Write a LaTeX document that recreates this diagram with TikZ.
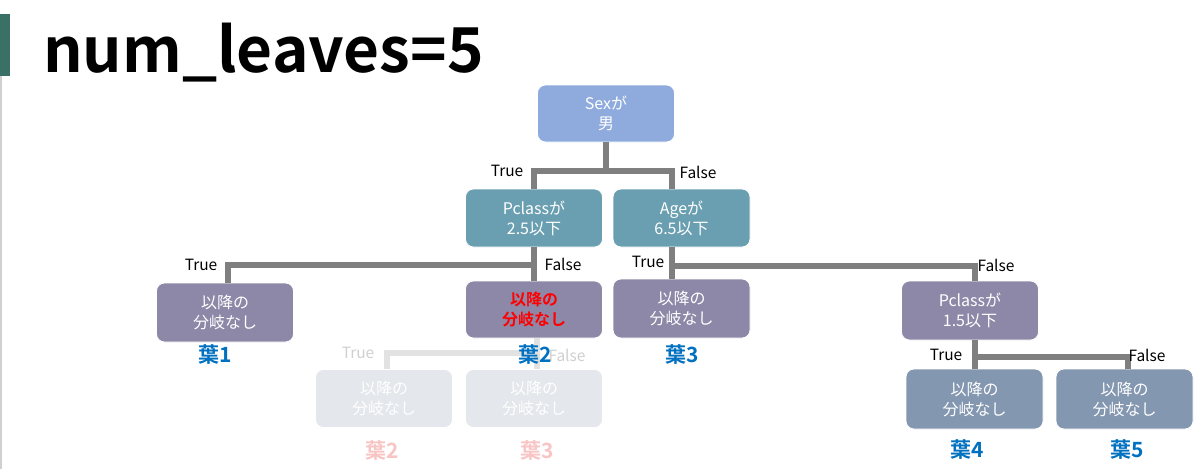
\documentclass[tikz,border=0pt]{standalone}
\usepackage{fontspec}
\setmainfont{Noto Sans CJK JP}[BoldFont={Noto Sans CJK JP Bold}]
\usetikzlibrary{calc}
\definecolor{sexblue}{HTML}{8FAADC}
\definecolor{tealbox}{HTML}{6A9FB1}
\definecolor{purplebox}{HTML}{8E88A8}
\definecolor{slatebox}{HTML}{8497B0}
\definecolor{fadedbox}{HTML}{E4E7EB}
\definecolor{linegray}{HTML}{7F7F7F}
\definecolor{fadedline}{HTML}{E2E2E2}
\definecolor{fadedtext}{HTML}{D0D0D0}
\definecolor{leafblue}{HTML}{0070C0}
\definecolor{leafpink}{HTML}{F8C4C4}
\definecolor{barGreen}{HTML}{3B7067}
\begin{document}
\begin{tikzpicture}[x=1pt,y=-1pt,
  box/.style={rounded corners=8pt,draw=white,line width=0.8pt,minimum width=137pt,minimum height=58pt,
    text=white,align=center,font=\fontsize{16}{20}\selectfont,inner sep=0pt},
  conn/.style={draw=linegray,line width=6pt,line join=miter},
  fconn/.style={draw=fadedline,line width=6pt,line join=miter},
  lbl/.style={font=\fontsize{15.5}{17}\selectfont,text=black,inner sep=0pt},
  flbl/.style={lbl,text=fadedtext},
  leaf/.style={font=\fontsize{21}{23}\selectfont\bfseries,text=leafblue,inner sep=0pt},
  fleaf/.style={leaf,text=leafpink}]
\useasboundingbox[fill=white] (0,0) rectangle (1200,469);
\fill[barGreen] (0,14) rectangle (10,76);
\draw[fadedtext,line width=1.2pt] (1,76) -- (1,469);
\node[anchor=base west,inner sep=0pt,font=\fontsize{62}{64}\selectfont\bfseries] (title) at (43,72) {num\_leaves=5};

% faded subtree (behind)
\node[box,fill=fadedbox] (f2) at (384,398.5) {以降の\\分岐なし};
\node[box,fill=fadedbox] (f3) at (534,398.5) {以降の\\分岐なし};
\coordinate (jf) at (537,353);

% nodes
\node[box,fill=sexblue,minimum height=57pt] (sex) at (606,113.5) {Sexが\\男};
\node[box,fill=tealbox] (pc25) at (534,218) {Pclassが\\2.5以下};
\node[box,fill=tealbox] (age) at (681.5,218) {Ageが\\6.5以下};
\node[box,fill=purplebox,minimum height=59pt] (l1) at (225,312.5) {以降の\\分岐なし};
\node[box,fill=purplebox,minimum height=57pt,text=red,font=\fontsize{16}{20}\selectfont\bfseries] (red) at (534,309.5) {以降の\\分岐なし};
\node[box,fill=purplebox,minimum height=59pt] (l3) at (681.5,308.5) {以降の\\分岐なし};
\node[box,fill=purplebox,minimum height=59pt] (p15) at (970,310.5) {Pclassが\\1.5以下};
\node[box,fill=slatebox,minimum height=60pt] (l4) at (974.5,399) {以降の\\分岐なし};
\node[box,fill=slatebox,minimum height=60pt] (l5) at (1124.5,399) {以降の\\分岐なし};

% faded connectors
\draw[fconn] ([xshift=3pt]red.south) -- (jf) -| ([xshift=3pt]f2.north);
\draw[fconn] (jf) -- ([xshift=3pt]f3.north);
\node[flbl] (ft) at (358,353) {True};
\node[flbl] (ff) at (567,355) {False};

% connectors
\coordinate (j1) at (606,171);
\draw[conn] (sex.south) -- (j1);
\draw[conn] (pc25.north) |- ($(age.north)+(-9.5,-18)$) -- ([xshift=-9.5pt]age.north);
\coordinate (j2) at (534,265);
\draw[conn] (pc25.south) -- (red.north);
\draw[conn] ([xshift=3pt]l1.north) |- (j2);
\coordinate (j3) at (672,266);
\draw[conn] ([xshift=-9.5pt]age.south) -- ([xshift=-9.5pt]l3.north);
\draw[conn] (j3) -| ([xshift=5pt]p15.north);
\coordinate (j4) at (975,357);
\draw[conn] ([xshift=5pt]p15.south) -- ([xshift=0.5pt]l4.north);
\draw[conn] (j4) -| ([xshift=3.5pt]l5.north);

% labels
\node[lbl] (t1) at (507,171) {True};
\node[lbl] (f1) at (698,172) {False};
\node[lbl] (t2) at (201,265) {True};
\node[lbl] (fl2) at (563,264) {False};
\node[lbl] (t3) at (648,262) {True};
\node[lbl] (fl3) at (996,265) {False};
\node[lbl] (t4) at (946,355) {True};
\node[lbl] (fl4) at (1147,355) {False};

% leaf labels
\node[leaf] (y1) at (215,355) {葉1};
\node[leaf] (y2) at (535,355) {葉2};
\node[leaf] (y3) at (682,355) {葉3};
\node[leaf] (y4) at (967,450) {葉4};
\node[leaf] (y5) at (1127,450) {葉5};
\node[fleaf] (fy2) at (382,451) {葉2};
\node[fleaf] (fy3) at (537,451) {葉3};
\end{tikzpicture}
\end{document}
